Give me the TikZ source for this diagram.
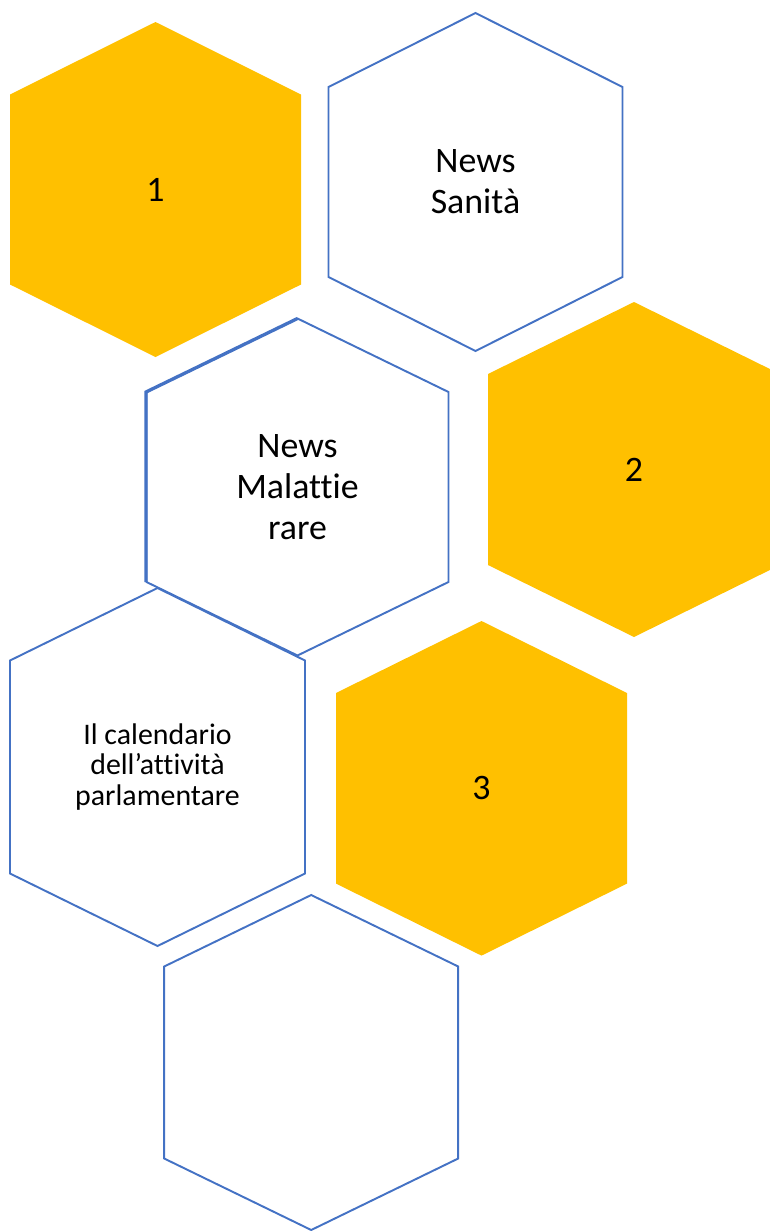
\documentclass[tikz,border=0pt]{standalone}
\usepackage{fontspec}
\setmainfont{Carlito}[Ligatures={NoCommon}]
\definecolor{honeygold}{RGB}{255,192,0}
\definecolor{cellblue}{RGB}{68,114,196}
\tikzset{
    goldcell/.style={fill=honeygold, draw=none},
    bluecell/.style={draw=cellblue, line width=1.1pt, line join=miter},
    celltext/.style={align=center, font=\fontsize{20.4}{23.3}\selectfont},
    smalltext/.style={align=center, font=\fontsize{17}{17.4}\selectfont}
}
% hexagon: style, centre, half width, top offset, side offset
\newcommand{\hexcell}[5]{\draw[#1] (#2) ++(0,-#4) -- ++(-#3,{#4-#5}) -- ++(0,{2*#5}) -- ++(#3,{#4-#5}) -- ++(#3,{#5-#4}) -- ++(0,{-2*#5}) -- cycle;}
\begin{document}
\begin{tikzpicture}[x=0.02cm, y=-0.02cm]
    \useasboundingbox (0,0) rectangle (770,1231);
    \clip (0,0) rectangle (770,1231);
    \coordinate (one) at (155.5,189.5);
    \coordinate (sanita) at (475.5,182);
    \coordinate (malattie) at (297.5,487);
    \coordinate (two) at (634,469.5);
    \coordinate (calendario) at (157.5,767);
    \coordinate (three) at (481.5,788.3);
    \coordinate (empty) at (311.2,1062.5);
    \hexcell{goldcell}{one}{145.5}{167.5}{95}
    \hexcell{goldcell}{two}{146}{167.5}{95.5}
    \hexcell{goldcell}{three}{145.5}{167.3}{95.3}
    \hexcell{bluecell}{sanita}{147}{169}{95}
    \hexcell{bluecell}{malattie}{151}{168.5}{95}
    \draw[bluecell, line width=1.9pt] (malattie) ++(-151.5,95) -- ++(0,-190) -- ++(151.5,-73.5);
    \hexcell{bluecell}{calendario}{147.5}{179}{106.5}
    \hexcell{bluecell}{empty}{147}{167.5}{96}
    \node[celltext] (onetext) at (one) {1};
    \node[celltext] (twotext) at (two) {2};
    \node[celltext] (threetext) at (three) {3};
    \node[celltext] (sanitatext) at (sanita) {News\\Sanità};
    \node[celltext] (malattietext) at (malattie) {News\\Malattie\\rare};
    \node[smalltext] (calendariotext) at (calendario) {Il calendario\\dell’attività\\parlamentare};
\end{tikzpicture}
\end{document}
